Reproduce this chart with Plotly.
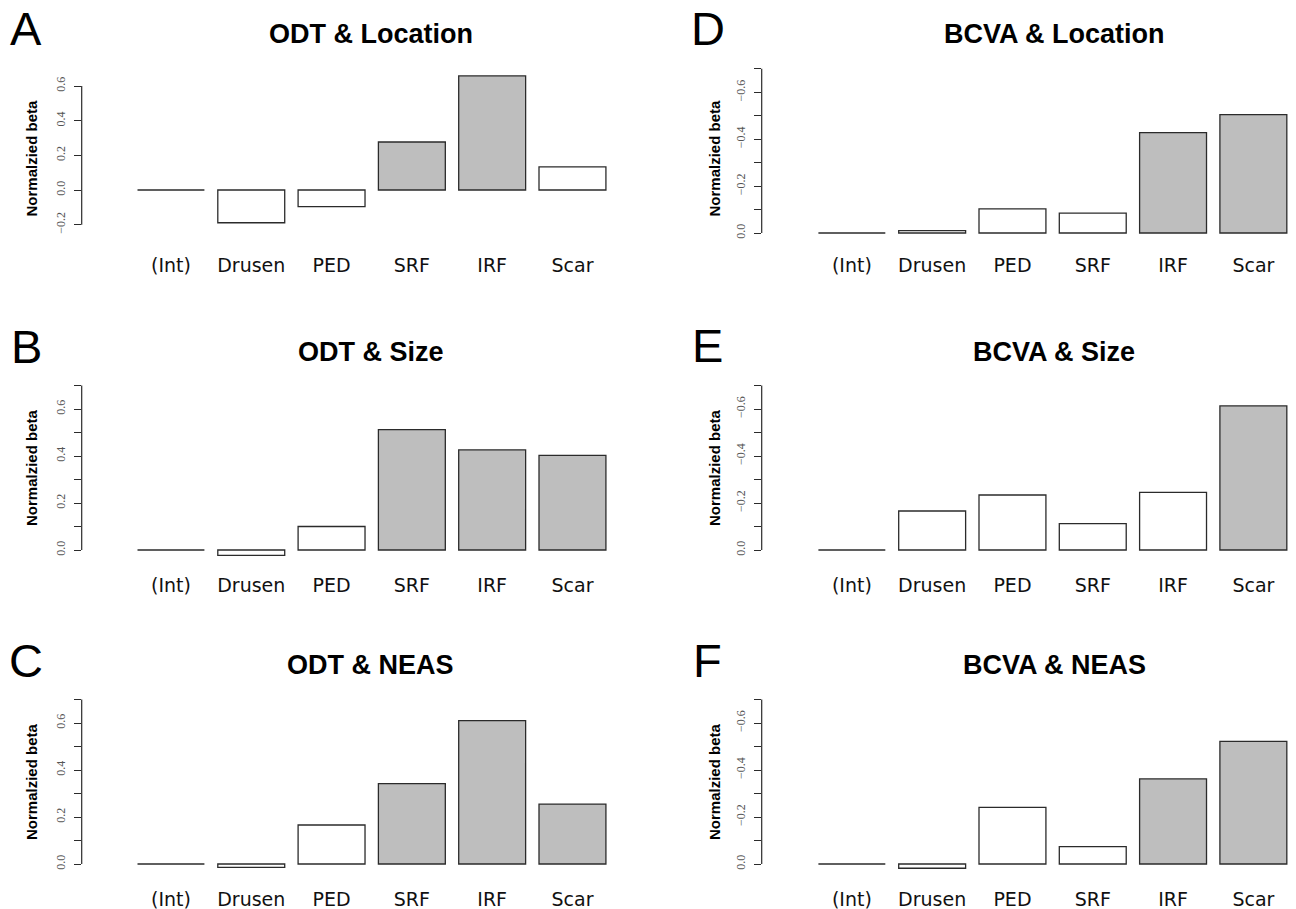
import plotly.graph_objects as go

# ---------------- data ----------------
categories = ["(Int)", "Drusen", "PED", "SRF", "IRF", "Scar"]

odt_location = [0.0, -0.189, -0.096, 0.277, 0.658, 0.134]
odt_size = [0.0, -0.023, 0.100, 0.512, 0.426, 0.403]
odt_neas = [0.0, -0.014, 0.166, 0.342, 0.610, 0.255]
bcva_location = [0.0, -0.010, -0.103, -0.085, -0.428, -0.505]
bcva_size = [0.0, -0.166, -0.234, -0.112, -0.245, -0.613]
bcva_neas = [0.0, 0.018, -0.241, -0.074, -0.362, -0.522]

# significance flags (grey bars)
odt_location_sig = [0, 0, 0, 1, 1, 0]
odt_size_sig = [0, 0, 0, 1, 1, 1]
odt_neas_sig = [0, 0, 0, 1, 1, 1]
bcva_location_sig = [0, 0, 0, 0, 1, 1]
bcva_size_sig = [0, 0, 0, 0, 0, 1]
bcva_neas_sig = [0, 0, 0, 0, 1, 1]

titles = ["ODT & Location", "ODT & Size", "ODT & NEAS",
          "BCVA & Location", "BCVA & Size", "BCVA & NEAS"]
letters = ["A", "B", "C", "D", "E", "F"]
y_title = "Normalzied beta"

ticks_a_vals = [-0.2, 0.0, 0.2, 0.4, 0.6]
ticks_a_text = ["\u22120.2", "0.0", "0.2", "0.4", "0.6"]
ticks_pos_vals = [0.0, 0.1, 0.2, 0.3, 0.4, 0.5, 0.6, 0.7]
ticks_pos_text = ["0.0", "", "0.2", "", "0.4", "", "0.6", ""]
ticks_neg_vals = [0.0, -0.1, -0.2, -0.3, -0.4, -0.5, -0.6, -0.7]
ticks_neg_text = ["0.0", "", "\u22120.2", "", "\u22120.4", "", "\u22120.6", ""]

# ---------------- layout (pixels) ----------------
W, H = 1296, 909
GREY = "#BEBEBE"
WHITE = "#FFFFFF"
EDGE = "#2b2b2b"
BARGAP = 0.2 / 1.2

cols = {
    0: dict(x0=81.7, x1=645.0, int_left=137.5, pitch=80.3, title_x=370.5, letter_x=26, ytitle_x=31),
    1: dict(x0=761.7, x1=1290.0, int_left=818.4, pitch=80.3, title_x=1054, letter_x=707.5, ytitle_x=714),
}

panels = [
    dict(col=0, vals=odt_location, sig=odt_location_sig, tv=ticks_a_vals, tt=ticks_a_text,
         zero=190.0, ppu=173.3, top=60, bot=240, rev=False, title_y=34.5, letter_top=0, ytitle_y=158.5),
    dict(col=0, vals=odt_size, sig=odt_size_sig, tv=ticks_pos_vals, tt=ticks_pos_text,
         zero=550.0, ppu=235.0, top=370, bot=560, rev=False, title_y=352, letter_top=318, ytitle_y=468),
    dict(col=0, vals=odt_neas, sig=odt_neas_sig, tv=ticks_pos_vals, tt=ticks_pos_text,
         zero=864.0, ppu=235.0, top=684, bot=874, rev=False, title_y=665, letter_top=632, ytitle_y=782),
    dict(col=1, vals=bcva_location, sig=bcva_location_sig, tv=ticks_neg_vals, tt=ticks_neg_text,
         zero=233.0, ppu=234.5, top=55, bot=240, rev=True, title_y=34.5, letter_top=0, ytitle_y=158.5),
    dict(col=1, vals=bcva_size, sig=bcva_size_sig, tv=ticks_neg_vals, tt=ticks_neg_text,
         zero=550.0, ppu=235.0, top=370, bot=560, rev=True, title_y=352, letter_top=317, ytitle_y=468),
    dict(col=1, vals=bcva_neas, sig=bcva_neas_sig, tv=ticks_neg_vals, tt=ticks_neg_text,
         zero=864.0, ppu=235.0, top=684, bot=874, rev=True, title_y=665, letter_top=632, ytitle_y=782),
]


def fx(p):
    return p / W


def fy(p):
    return 1 - p / H


fig = go.Figure()
layout = dict(
    width=W, height=H,
    margin=dict(l=0, r=0, t=0, b=0),
    paper_bgcolor="white", plot_bgcolor="white",
    showlegend=False, bargap=BARGAP,
)
shapes = []
annotations = []

for i, (p, title, letter) in enumerate(zip(panels, titles, letters)):
    n = i + 1
    xa = "x" if n == 1 else f"x{n}"
    ya = "y" if n == 1 else f"y{n}"
    xkey = "xaxis" if n == 1 else f"xaxis{n}"
    ykey = "yaxis" if n == 1 else f"yaxis{n}"
    c = cols[p["col"]]

    unit = c["pitch"]
    left_edge = -0.5 + BARGAP / 2
    xr0 = left_edge - (c["int_left"] - c["x0"]) / unit
    xr1 = xr0 + (c["x1"] - c["x0"]) / unit

    if p["rev"]:
        yr = [(p["bot"] - p["zero"]) / p["ppu"], -(p["zero"] - p["top"]) / p["ppu"]]
    else:
        yr = [-(p["bot"] - p["zero"]) / p["ppu"], (p["zero"] - p["top"]) / p["ppu"]]

    fig.add_trace(go.Bar(
        x=categories, y=p["vals"],
        marker=dict(color=[GREY if s else WHITE for s in p["sig"]],
                    line=dict(color=EDGE, width=1.3)),
        xaxis=xa, yaxis=ya, hoverinfo="x+y",
    ))

    layout[xkey] = dict(
        domain=[fx(c["x0"]), fx(c["x1"])], range=[xr0, xr1], anchor=ya,
        showline=False, showgrid=False, zeroline=False, ticks="",
        tickfont=dict(family="DejaVu Sans", size=19, color="#111"),
        ticklabelstandoff=12, fixedrange=True,
    )
    layout[ykey] = dict(
        domain=[fy(p["bot"]), fy(p["top"])], range=yr, anchor=xa,
        showline=False, showgrid=False, zeroline=False,
        ticks="outside", ticklen=7, tickwidth=1.2, tickcolor=EDGE,
        tickvals=p["tv"], ticktext=p["tt"], tickangle=-90,
        tickfont=dict(family="Liberation Serif", size=12, color="#555"),
        ticklabelstandoff=4, fixedrange=True,
    )
    shapes.append(dict(type="line", xref=f"{xa} domain", yref=ya,
                       x0=0, x1=0, y0=min(p["tv"]), y1=max(p["tv"]),
                       line=dict(color=EDGE, width=1.2)))

    annotations.append(dict(text=f"<b>{title}</b>", x=fx(c["title_x"]), y=fy(p["title_y"]),
                            xref="paper", yref="paper", xanchor="center", yanchor="middle",
                            showarrow=False,
                            font=dict(family="Liberation Sans, Arial", size=27, color="#000")))
    annotations.append(dict(text=letter, x=fx(c["letter_x"]), y=fy(p["letter_top"]),
                            xref="paper", yref="paper", xanchor="center", yanchor="top",
                            showarrow=False,
                            font=dict(family="Liberation Sans, Arial", size=47, color="#000")))
    annotations.append(dict(text=f"<b>{y_title}</b>", x=fx(c["ytitle_x"]), y=fy(p["ytitle_y"]),
                            xref="paper", yref="paper", xanchor="center", yanchor="middle",
                            textangle=-90, showarrow=False,
                            font=dict(family="Liberation Sans, Arial", size=15, color="#000")))

layout["shapes"] = shapes
layout["annotations"] = annotations
fig.update_layout(**layout)

fig.write_html("out.html", config={"displayModeBar": False},
               post_script="document.body.style.margin='0px';")
